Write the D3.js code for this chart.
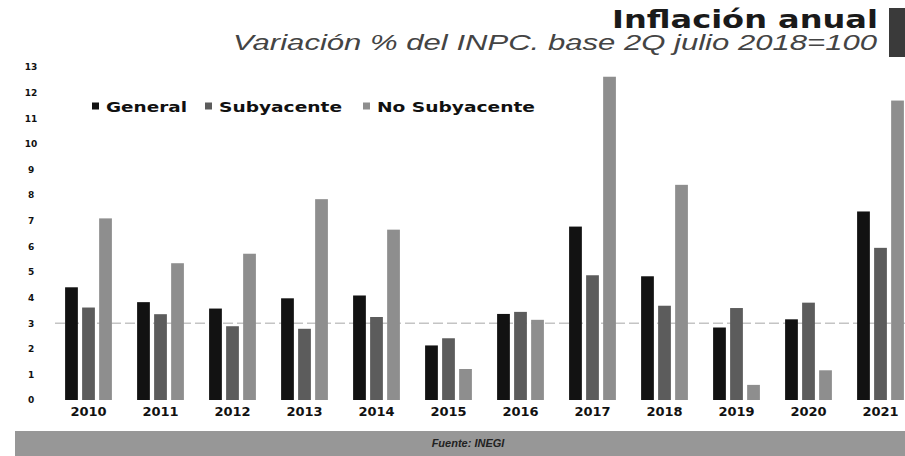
<!DOCTYPE html>
<html>
<head>
<meta charset="utf-8">
<script src="https://cdn.jsdelivr.net/npm/d3@7"></script>
<style>
  html, body { margin: 0; padding: 0; background: #fff; }
  svg { display: block; }
</style>
</head>
<body>
<svg id="chart" width="905" height="456"></svg>
<script>
// ---- Data ----
const years = ["2010","2011","2012","2013","2014","2015","2016","2017","2018","2019","2020","2021"];
const seriesNames = ["General", "Subyacente", "No Subyacente"];
const general    = [4.40, 3.82, 3.57, 3.97, 4.08, 2.13, 3.36, 6.77, 4.83, 2.83, 3.15, 7.36];
const subyacente = [3.61, 3.35, 2.88, 2.78, 3.24, 2.41, 3.44, 4.87, 3.68, 3.59, 3.80, 5.94];
const noSubyacente = [7.09, 5.34, 5.71, 7.84, 6.65, 1.21, 3.13, 12.62, 8.40, 0.59, 1.16, 11.69];
const yTicks = [0,1,2,3,4,5,6,7,8,9,10,11,12,13];
const targetValue = 3;
const titleText = "Inflación anual";
const subtitleText = "Variación % del INPC. base 2Q julio 2018=100";
const sourceText = "Fuente: INEGI";

const colors = ["#121212", "#5c5c5c", "#8e8e8e"];
const seriesValues = [general, subyacente, noSubyacente];

const svg = d3.select("#chart");
const W = 905, H = 456;

// ---- Scales ----
const x0 = d3.scaleBand().domain(years).range([52.5, 916.5]).paddingInner(0.35).paddingOuter(0.175);
const x1 = d3.scaleBand().domain(seriesNames).range([0, x0.bandwidth()]).paddingInner(0.25).paddingOuter(0);
const y = d3.scaleLinear().domain([0, 13]).range([400, 67]);

// ---- Title ----
svg.append("text")
  .attr("x", 878).attr("y", 28)
  .attr("text-anchor", "end")
  .attr("font-family", "DejaVu Sans, sans-serif")
  .attr("font-weight", "bold")
  .attr("font-size", 25)
  .attr("fill", "#1a1a1a")
  .attr("textLength", 266)
  .attr("lengthAdjust", "spacingAndGlyphs")
  .text(titleText);

svg.append("text")
  .attr("x", 877).attr("y", 50)
  .attr("text-anchor", "end")
  .attr("font-family", "Liberation Sans, Arial, sans-serif")
  .attr("font-style", "italic")
  .attr("font-size", 22)
  .attr("fill", "#444")
  .attr("textLength", 644)
  .attr("lengthAdjust", "spacingAndGlyphs")
  .text(subtitleText);

svg.append("rect")
  .attr("x", 889).attr("y", 8).attr("width", 16).attr("height", 49)
  .attr("fill", "#3a3a3a");

// ---- Target line ----
svg.append("line")
  .attr("x1", 55).attr("x2", 905)
  .attr("y1", y(targetValue)).attr("y2", y(targetValue))
  .attr("stroke", "#c4c4c4")
  .attr("stroke-width", 1.5)
  .attr("stroke-dasharray", "10,4");

// ---- Y axis ----
const yAxis = d3.axisLeft(y).tickValues(yTicks).tickSize(0).tickPadding(0);
const gy = svg.append("g").attr("transform", "translate(31,0)").call(yAxis);
gy.select(".domain").remove();
gy.selectAll("text")
  .attr("text-anchor", "middle")
  .attr("x", 0)
  .attr("font-family", "DejaVu Sans, sans-serif")
  .attr("font-weight", "bold")
  .attr("font-size", 9)
  .attr("fill", "#111");

// ---- Bars ----
const groups = svg.append("g").selectAll("g")
  .data(years)
  .join("g")
  .attr("transform", d => `translate(${x0(d)},0)`);

groups.selectAll("rect")
  .data((d, i) => seriesNames.map((s, j) => ({ s, v: seriesValues[j][i], j })))
  .join("rect")
  .attr("x", d => x1(d.s))
  .attr("width", x1.bandwidth())
  .attr("y", d => y(d.v))
  .attr("height", d => y(0) - y(d.v))
  .attr("fill", d => colors[d.j]);

// ---- X axis ----
const xAxis = d3.axisBottom(x0).tickSize(0).tickPadding(0);
const gx = svg.append("g").attr("transform", `translate(0,${y(0)})`).call(xAxis);
gx.select(".domain").remove();
gx.selectAll("text")
  .attr("y", 16)
  .attr("dy", 0)
  .attr("font-family", "DejaVu Sans, sans-serif")
  .attr("font-weight", "bold")
  .attr("font-size", 13)
  .attr("fill", "#111");

// ---- Legend ----
const legendX = [92, 205, 363];
const legendW = [81, 123, 158];
const legend = svg.append("g");
seriesNames.forEach((name, i) => {
  legend.append("rect")
    .attr("x", legendX[i]).attr("y", 102.5)
    .attr("width", 7).attr("height", 7)
    .attr("fill", colors[i]);
  legend.append("text")
    .attr("x", legendX[i] + 14).attr("y", 112)
    .attr("font-family", "DejaVu Sans, sans-serif")
    .attr("font-weight", "bold")
    .attr("font-size", 14)
    .attr("fill", "#111")
    .attr("textLength", legendW[i])
    .attr("lengthAdjust", "spacingAndGlyphs")
    .text(name);
});

// ---- Footer ----
svg.append("rect")
  .attr("x", 15).attr("y", 431).attr("width", 890).attr("height", 25)
  .attr("fill", "#979797");
svg.append("text")
  .attr("x", 468).attr("y", 447)
  .attr("text-anchor", "middle")
  .attr("font-family", "Liberation Sans, Arial, sans-serif")
  .attr("font-style", "italic")
  .attr("font-weight", "bold")
  .attr("font-size", 11)
  .attr("fill", "#222")
  .text(sourceText);
</script>
</body>
</html>
